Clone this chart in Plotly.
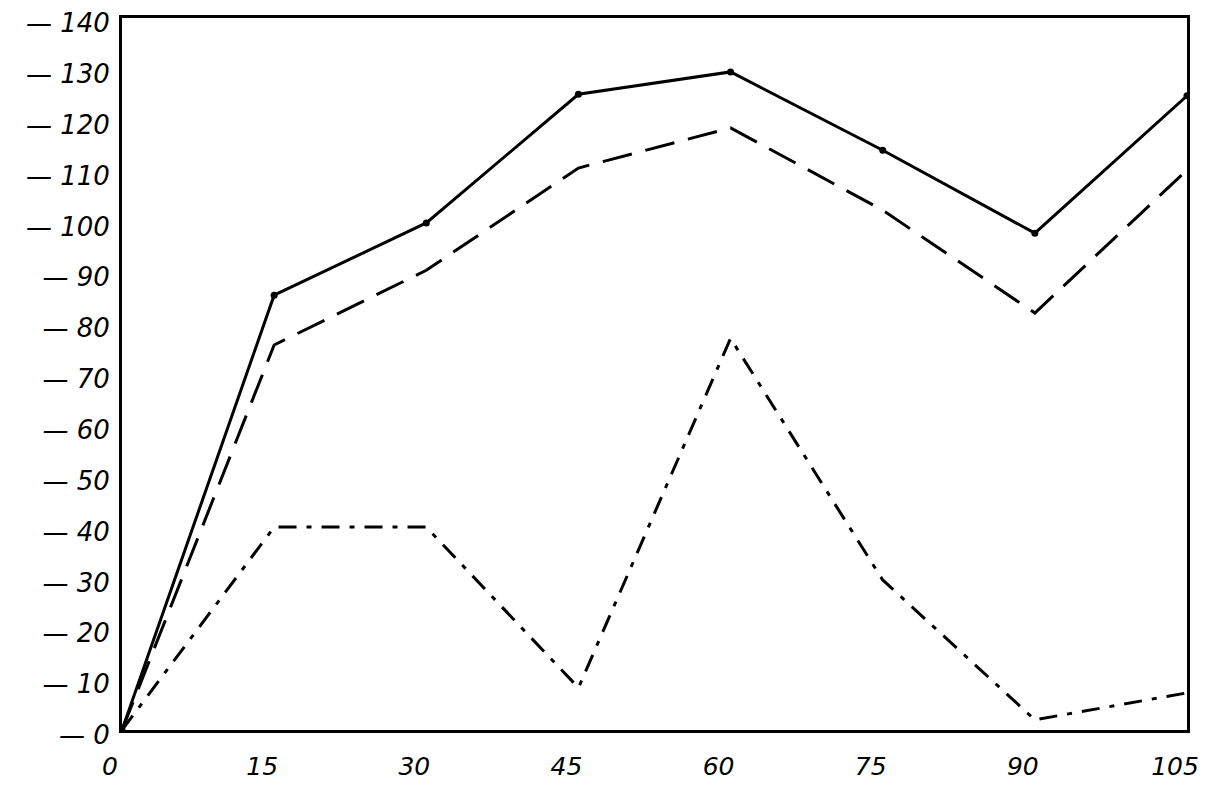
import plotly.graph_objects as go

x_vals = [0, 15, 30, 45, 60, 75, 90, 105]
solid_vals = [0, 85.5, 99.7, 125, 129.4, 114, 97.7, 124.7]
dashed_vals = [0, 75.7, 90.4, 110.5, 118.4, 102.2, 82, 110.1]
dashdot_vals = [0, 39.9, 39.9, 8.3, 77, 29.5, 2, 7.3]

y_ticks = [0, 10, 20, 30, 40, 50, 60, 70, 80, 90, 100, 110, 120, 130, 140]
y_tick_text = ["— " + str(v) for v in y_ticks]
x_tick_text = [str(v) for v in x_vals]

fig = go.Figure()
fig.add_trace(go.Scatter(x=x_vals, y=solid_vals, mode="lines+markers",
                         line=dict(color="black", width=3),
                         marker=dict(color="black", size=7), showlegend=False))
fig.add_trace(go.Scatter(x=x_vals, y=dashed_vals, mode="lines",
                         line=dict(color="black", width=3, dash="30px,14px"),
                         showlegend=False))
fig.add_trace(go.Scatter(x=x_vals, y=dashdot_vals, mode="lines",
                         line=dict(color="black", width=3, dash="18px,10px,5px,10px"),
                         showlegend=False))

fig.update_layout(
    width=1206, height=795,
    margin=dict(l=114, r=27, t=10, b=73),
    paper_bgcolor="white", plot_bgcolor="white",
    font=dict(family="DejaVu Sans", color="black", style="italic"),
    xaxis=dict(range=[0, 105], tickvals=x_vals, ticktext=x_tick_text,
               showgrid=False, zeroline=False, showline=True, linecolor="black",
               linewidth=3, mirror=True, ticks="", automargin=False,
               ticklabeloverflow="allow", ticklabelstandoff=12, ticklabelshift=-12,
               tickfont=dict(size=25, family="DejaVu Sans", style="italic")),
    yaxis=dict(range=[0, 140], tickvals=y_ticks, ticktext=y_tick_text,
               showgrid=False, zeroline=False, showline=True, linecolor="black",
               linewidth=3, mirror=True, ticks="", automargin=False,
               ticklabeloverflow="allow", ticklabelshift=5, ticklabelstandoff=4,
               tickfont=dict(size=26, family="DejaVu Sans", style="italic")),
)

fig.write_html("out.html")
